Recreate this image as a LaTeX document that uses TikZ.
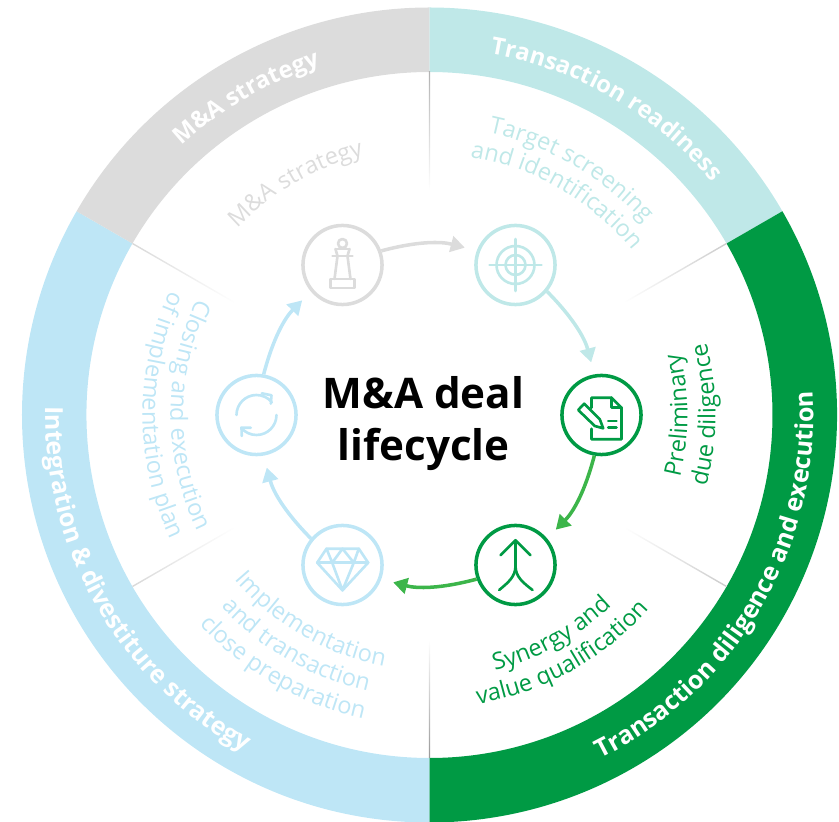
\documentclass[tikz,border=0pt]{standalone}
\usepackage{fontspec}
\setmainfont{Open Sans}
\usetikzlibrary{arrows.meta, decorations.text}

\definecolor{ringgrey}{HTML}{DCDCDC}
\definecolor{ringteal}{HTML}{BFE8E8}
\definecolor{ringgreen}{HTML}{009A44}
\definecolor{ringblue}{HTML}{BEE6F6}
\definecolor{arrowgreen}{HTML}{3CB54A}

\newcommand{\ringfont}[1]{\fontsize{#1}{16}\selectfont\bfseries\color{white}}
\newcommand{\stagefont}[1]{\fontsize{13.4}{15}\selectfont\color{#1}}

\tikzset{
    stage/.style={circle, draw=#1, line width=2pt, minimum size=45pt, inner sep=0pt},
    flow/.style={draw=#1, line width=2pt, shorten >=7pt, bend left=15, -{Triangle[length=8pt, width=9pt, fill=#1]}},
    glyph/.style={draw=#1, line width=1.5pt, line cap=round, line join=round},
    curvetext/.style={postaction={decorate}, decoration={text along path, text align=center, text={#1}}}
}

\begin{document}
\begin{tikzpicture}[x=0.569pt, y=0.569pt]
    \useasboundingbox (-429.5,-407) rectangle (409.5,415);

    % Outer ring
    \foreach \from/\to/\col in {90/30/ringteal, 30/-90/ringgreen, 270/150/ringblue, 150/90/ringgrey}
        \fill[\col] (\from:407.5) arc[start angle=\from, end angle=\to, radius=407.5]
            -- (\to:343) arc[start angle=\to, end angle=\from, radius=343] -- cycle;

    % Fading spokes
    \foreach \a/\tone in {90/30, 30/20, -30/20, -90/40, -150/15, 150/15}
        \shade[transform canvas={rotate=\a}, left color=white, right color=black!\tone] (225,-0.7) rectangle (343,0.7);

    % Ring titles
    \path[curvetext={|\ringfont{13.5}|M{\&}A strategy}] (150:366) arc[start angle=150, end angle=90, radius=366];
    \path[curvetext={|\ringfont{13.5}|Transaction readiness}] (90:366) arc[start angle=90, end angle=30, radius=366];
    \path[curvetext={|\ringfont{14.2}|Transaction diligence and execution}] (-90:384) arc[start angle=-90, end angle=30, radius=384];
    \path[curvetext={|\ringfont{14.2}|Integration {\&} divestiture strategy}] (150:384) arc[start angle=150, end angle=270, radius=384];

    % Stage labels
    \path[curvetext={|\stagefont{ringgrey}|M{\&}A strategy}] (165:268) arc[start angle=165, end angle=75, radius=268];
    \path[curvetext={|\stagefont{ringteal}|Target screening}] (105:288) arc[start angle=105, end angle=15, radius=288];
    \path[curvetext={|\stagefont{ringteal}|and identification}] (105:261) arc[start angle=105, end angle=15, radius=261];
    \path[curvetext={|\stagefont{ringgreen}|Preliminary}] (-45:258) arc[start angle=-45, end angle=45, radius=258];
    \path[curvetext={|\stagefont{ringgreen}|due diligence}] (-45:286) arc[start angle=-45, end angle=45, radius=286];
    \path[curvetext={|\stagefont{ringgreen}|Synergy and}] (-106:264) arc[start angle=-106, end angle=-16, radius=264];
    \path[curvetext={|\stagefont{ringgreen}|value qualification}] (-106:293) arc[start angle=-106, end angle=-16, radius=293];
    \path[curvetext={|\stagefont{ringblue}|Implementation}] (195:255) arc[start angle=195, end angle=285, radius=255];
    \path[curvetext={|\stagefont{ringblue}|and transaction}] (195:283) arc[start angle=195, end angle=285, radius=283];
    \path[curvetext={|\stagefont{ringblue}|close preparation}] (195:311) arc[start angle=195, end angle=285, radius=311];
    \path[curvetext={|\stagefont{ringblue}|Closing and execution}] (135:259) arc[start angle=135, end angle=225, radius=259];
    \path[curvetext={|\stagefont{ringblue}|of implementation plan}] (135:287) arc[start angle=135, end angle=225, radius=287];

    % Stages
    \node[stage=ringgrey] (chess) at (-87,150) {};
    \node[stage=ringteal] (target) at (86,150) {};
    \node[stage=ringgreen] (report) at (172,0) {};
    \node[stage=ringgreen] (merge) at (86,-150) {};
    \node[stage=ringblue] (gem) at (-87,-150) {};
    \node[stage=ringblue] (refresh) at (-173,0) {};

    \node[font=\fontsize{24}{29.6}\selectfont\bfseries, align=center] (title) at (-6,-9) {M\&A deal\\lifecycle};

    \draw[flow=ringgrey] (chess.20) to (target.160);
    \draw[flow=ringteal] (target.-40) to (report.100);
    \draw[flow=arrowgreen] (report.-100) to (merge.40);
    \draw[flow=arrowgreen] (merge.-160) to (gem.-20);
    \draw[flow=ringblue] (gem.140) to (refresh.-80);
    \draw[flow=ringblue] (refresh.80) to (chess.-140);

    % Chess piece
    \begin{scope}[shift={(chess)}]
        \draw[glyph=ringgrey] (0,21.5) circle (4.5);
        \draw[glyph=ringgrey] (-7,16) -- (7,16) (-10,9) -- (10,9);
        \draw[glyph=ringgrey] (-7,16) -- (-5,9) -- (-8,-14) (7,16) -- (5,9) -- (8,-14);
        \draw[glyph=ringgrey] (-12,-14) rectangle (12,-23);
    \end{scope}

    % Crosshair
    \begin{scope}[shift={(target)}]
        \draw[glyph=ringteal] (0,0) circle (19) (0,0) circle (10);
        \draw[glyph=ringteal] (-26,0) -- (26,0) (0,-26) -- (0,26);
    \end{scope}

    % Document and pencil
    \begin{scope}[shift={(report)}]
        \draw[glyph=ringgreen] (-10,7.3) -- (-10,17.3) -- (10,17.3) -- (20,7.3) -- (20,-24.3) -- (-10,-24.3) -- (-10,-13.7);
        \draw[glyph=ringgreen] (10,17.3) -- (10,7.3) -- (20,7.3);
        \draw[glyph=ringgreen] (-17.3,11.3) -- (-23.3,5) -- (-6.7,-11) -- (1.7,-13.3) -- (-1.7,-4.3) -- cycle;
        \draw[glyph=ringgreen] (6.7,-6) -- (15,-6) (6.7,-12.7) -- (15,-12.7);
    \end{scope}

    % Merging arrow
    \begin{scope}[shift={(merge)}]
        \draw[glyph=ringgreen] (-15,9.7) -- (0,24.7) -- (15,9.7);
        \draw[glyph=ringgreen] (0,24.7) -- (0,-1);
        \draw[glyph=ringgreen] (-16.3,-25) .. controls (-8,-18) and (0,-12) .. (0,-1);
        \draw[glyph=ringgreen] (17,-25) .. controls (8,-18) and (0,-12) .. (0,-1);
    \end{scope}

    % Diamond
    \begin{scope}[shift={(gem)}]
        \draw[glyph=ringblue] (-16,16.3) -- (16.3,16.3) -- (25.7,2.3) -- (0,-25.3) -- (-25.3,2.3) -- cycle;
        \draw[glyph=ringblue] (-25.3,2.3) -- (25.7,2.3);
        \draw[glyph=ringblue] (-16,16.3) -- (-10.3,2.3) -- (0,16.3) -- (11.3,2.3) -- (16.3,16.3);
        \draw[glyph=ringblue] (-10.3,2.3) -- (0,-25.3) -- (11.3,2.3);
    \end{scope}

    % Refresh arrows
    \begin{scope}[shift={(refresh)}]
        \draw[glyph=ringblue] (-20,0) arc[start angle=180, end angle=40, radius=20];
        \draw[glyph=ringblue] (5.3,21.7) -- (15,19.7) -- (14.3,11.3);
        \draw[glyph=ringblue] (20,0) arc[start angle=0, end angle=-140, radius=20];
        \draw[glyph=ringblue] (-14.7,-21) -- (-15,-12.7) -- (-5.7,-12.7);
    \end{scope}
\end{tikzpicture}
\end{document}
